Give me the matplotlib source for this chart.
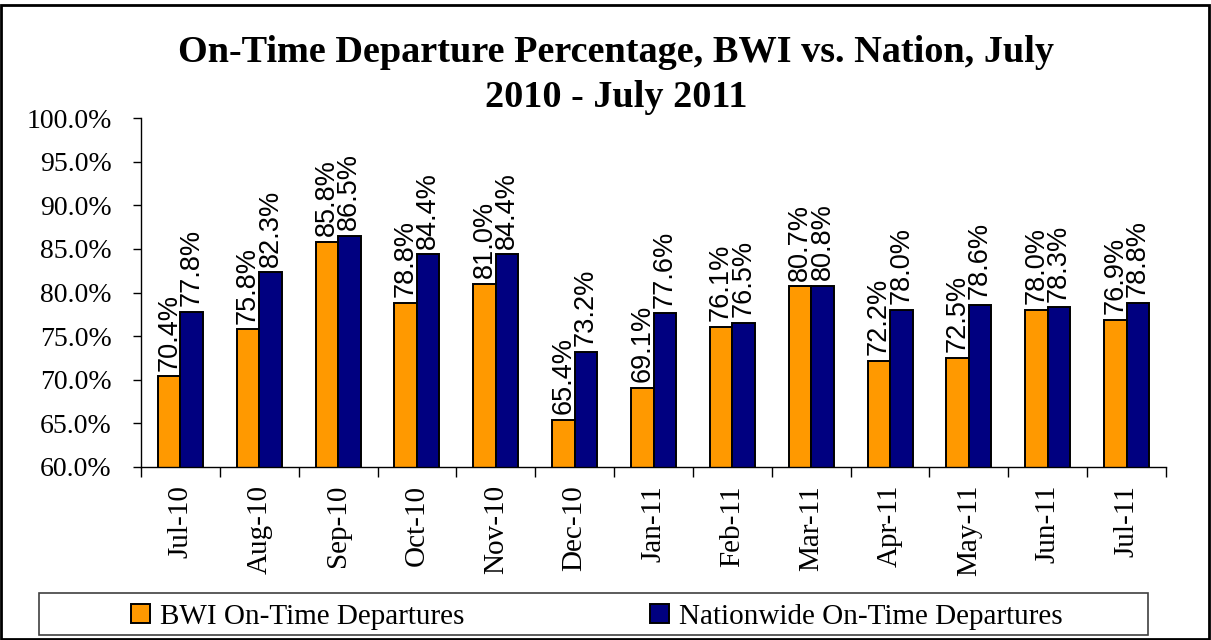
import matplotlib
matplotlib.use("Agg")
import matplotlib.pyplot as plt
import numpy as np
from matplotlib.patches import Rectangle
from matplotlib.ticker import FixedLocator, FuncFormatter

months = ["Jul-10", "Aug-10", "Sep-10", "Oct-10", "Nov-10", "Dec-10", "Jan-11",
          "Feb-11", "Mar-11", "Apr-11", "May-11", "Jun-11", "Jul-11"]
bwi = [70.4, 75.8, 85.8, 78.8, 81.0, 65.4, 69.1, 76.1, 80.7, 72.2, 72.5, 78.0, 76.9]
nation = [77.8, 82.3, 86.5, 84.4, 84.4, 73.2, 77.6, 76.5, 80.8, 78.0, 78.6, 78.3, 78.8]
series_names = ["BWI On-Time Departures", "Nationwide On-Time Departures"]
series_colors = ["#FF9900", "#000080"]
title = "On-Time Departure Percentage, BWI vs. Nation, July\n2010 - July 2011"

plt.rcParams['font.family'] = ['Liberation Serif', 'DejaVu Serif']

W, H = 1211, 640
fig = plt.figure(figsize=(W / 100, H / 100), dpi=100)
ax = fig.add_axes([141 / W, 1 - 467 / H, (1166 - 141) / W, (467 - 118) / H])

x = np.arange(len(months))
w = 0.285
bars = []
for i, (vals, col) in enumerate(((bwi, series_colors[0]), (nation, series_colors[1]))):
    b = ax.bar(x + (i - 0.5) * w, vals, w, color=col, edgecolor="black", linewidth=1.4,
               label=series_names[i])
    bars.append(b)
    for r, v in zip(b, vals):
        ax.annotate(f"{v:.1f}%", (r.get_x() + r.get_width() / 2, v), xytext=(0, 4),
                    textcoords="offset points", rotation=90, ha="center", va="bottom",
                    fontsize=19.5, family=["Liberation Sans", "DejaVu Sans"])

ax.set_ylim(60, 100)
ax.set_xlim(-0.5, len(months) - 0.5)
ax.yaxis.set_major_locator(FixedLocator(np.arange(60, 100.1, 5)))
ax.yaxis.set_major_formatter(FuncFormatter(lambda v, p: f"{v:.1f}%"))
ax.tick_params(axis="y", labelsize=20, direction="out", length=6, width=1, pad=15)
ax.set_xticks(x)
ax.set_xticklabels(months, rotation=90, fontsize=21)
ax.tick_params(axis="x", which="major", length=0, pad=13)
ax.set_xticks(np.arange(-0.5, len(months), 1), minor=True)
ax.tick_params(axis="x", which="minor", length=7.2, width=1, direction="out")
for s in ("top", "right"):
    ax.spines[s].set_visible(False)
ax.spines["left"].set_linewidth(1)
ax.spines["bottom"].set_linewidth(1)

fig.text(616 / W, 1 - 107 / H, title, ha="center", va="baseline", fontsize=27.5,
         fontweight="bold", linespacing=1.37)

# legend box drawn in figure pixels
def fx(px):
    return px / W

def fy(py):
    return 1 - py / H

fig.patches.append(Rectangle((fx(39), fy(635)), fx(1148) - fx(39), fy(593) - fy(635),
                             transform=fig.transFigure, fill=True, facecolor="white",
                             edgecolor="#404040", linewidth=1.2))
entries_x = [131, 650]
for ex, name, col in zip(entries_x, series_names, series_colors):
    fig.patches.append(Rectangle((fx(ex), fy(623)), fx(19), 19 / H,
                                 transform=fig.transFigure, facecolor=col,
                                 edgecolor="black", linewidth=1.4))
    fig.text(fx(ex + 29), fy(614), name, ha="left", va="center_baseline", fontsize=21)

fig.patches.append(Rectangle((0.001, 0.002), 0.997, 0.990, transform=fig.transFigure,
                             fill=False, edgecolor="black", linewidth=2))

fig.savefig("out.png", dpi=100)
